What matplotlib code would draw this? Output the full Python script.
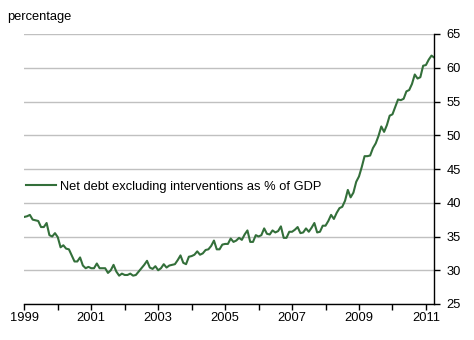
import numpy as np
import matplotlib
matplotlib.use("Agg")
import matplotlib.pyplot as plt

# Monthly values, Jan 1999 onwards
net_debt = [
    37.9, 38.0, 38.2, 37.5, 37.4, 37.3, 36.4, 36.4, 37.0, 35.2, 35.0, 35.5,  # 1999
    34.9, 33.4, 33.7, 33.2, 33.1, 32.2, 31.3, 31.3, 31.9, 30.7, 30.3, 30.5,  # 2000
    30.3, 30.3, 31.0, 30.3, 30.3, 30.3, 29.6, 30.0, 30.8, 29.8, 29.2, 29.5,  # 2001
    29.3, 29.3, 29.5, 29.2, 29.3, 29.8, 30.3, 30.8, 31.4, 30.4, 30.2, 30.6,  # 2002
    30.0, 30.3, 30.9, 30.4, 30.7, 30.8, 30.9, 31.5, 32.2, 31.1, 30.9, 32.0,  # 2003
    32.1, 32.3, 32.8, 32.3, 32.5, 33.0, 33.1, 33.6, 34.4, 33.1, 33.1, 33.8,  # 2004
    33.9, 33.9, 34.7, 34.2, 34.4, 34.8, 34.5, 35.3, 35.9, 34.2, 34.2, 35.2,  # 2005
    35.0, 35.2, 36.2, 35.4, 35.3, 35.9, 35.6, 35.8, 36.5, 34.8, 34.8, 35.7,  # 2006
    35.7, 36.0, 36.4, 35.5, 35.6, 36.2, 35.7, 36.3, 37.0, 35.6, 35.7, 36.6,  # 2007
    36.6, 37.3, 38.2, 37.6, 38.5, 39.2, 39.4, 40.3, 41.9, 40.8, 41.5, 43.1,  # 2008
    43.9, 45.3, 46.9, 46.9, 47.0, 48.1, 48.8, 49.9, 51.3, 50.5, 51.5, 52.9,  # 2009
    53.1, 54.2, 55.3, 55.2, 55.4, 56.5, 56.7, 57.6, 59.0, 58.4, 58.6, 60.3,  # 2010
    60.4, 61.2, 61.8, 61.5,                                                  # 2011
]
start_year = 1999
year_ticks = list(range(1999, 2012))
year_labels = [str(y) if (y - 1999) % 2 == 0 else "" for y in year_ticks]
y_ticks = list(range(25, 66, 5))

plt.rcParams['font.family'] = ['Liberation Sans', 'DejaVu Sans']
fs = 9.3

fig = plt.figure(figsize=(4.74, 3.40), dpi=100)
ax = fig.add_axes([24.3 / 474, 36 / 340, 410 / 474, 270 / 340])

t = start_year + np.arange(len(net_debt)) / 12.0
ax.plot(t, net_debt, color='#336f3a', linewidth=1.5,
        label='Net debt excluding interventions as % of GDP')

ax.set_xlim(1999, 1999 + 147 / 12.0)
ax.set_ylim(25, 65)

ax.set_xticks(year_ticks)
ax.set_xticklabels(year_labels)
ax.set_yticks(y_ticks)

ax.yaxis.tick_right()
ax.tick_params(axis='x', direction='out', length=4, width=1, pad=2,
               labelsize=fs, color='black')
ax.tick_params(axis='y', direction='out', length=4, width=1, pad=5,
               labelsize=fs, color='black')

for s in ['top', 'left']:
    ax.spines[s].set_visible(False)
for s in ['bottom', 'right']:
    ax.spines[s].set_linewidth(1)
    ax.spines[s].set_color('black')

ax.grid(axis='y', color='#c0c0c0', linewidth=1)
ax.set_axisbelow(True)

fig.text(7.3 / 474, 1 - 17 / 340, 'percentage', fontsize=fs,
         ha='left', va='center')

ax.legend(loc='center left', bbox_to_anchor=(26 / 474, 1 - 186.7 / 340),
          bbox_transform=fig.transFigure, frameon=False, fontsize=fs,
          handlelength=2.3, handletextpad=0.3, borderpad=0, borderaxespad=0)

fig.savefig('out.png', dpi=100)
